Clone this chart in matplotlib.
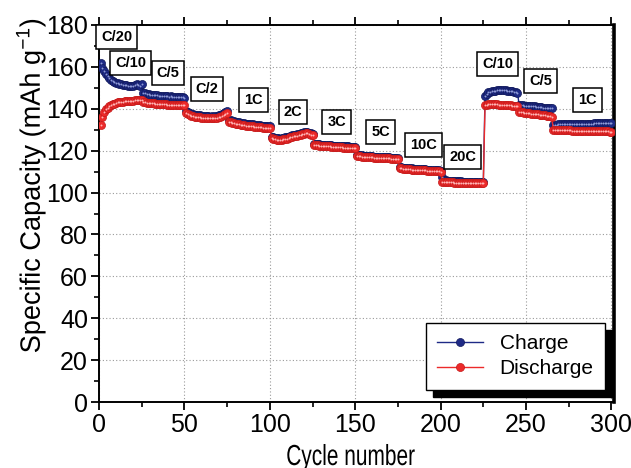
import matplotlib
matplotlib.use("Agg")
import matplotlib.pyplot as plt
from matplotlib import font_manager
from matplotlib.font_manager import FontProperties
from matplotlib.textpath import TextPath
from matplotlib.patches import PathPatch
from matplotlib.transforms import Affine2D, IdentityTransform

# ---------------- data ----------------
charge = [
    161.8, 159.5, 157.8, 156.5, 155.5, 154.6, 153.9, 153.3, 152.8, 152.4,
    152.1, 151.9, 151.7, 151.5, 151.4, 151.3, 151.1, 151.0, 150.9, 150.8,
    151.4, 151.9, 151.5, 150.8, 151.6,
    147.6, 147.3, 147.1, 146.9, 146.8, 146.6, 146.5, 146.4, 146.5, 146.3,
    146.2, 146.1, 146.2, 146.0, 145.9, 145.8, 145.9, 145.7, 145.6, 145.6,
    145.5, 145.5, 145.4, 145.5, 145.3,
    138.8, 138.3, 137.9, 137.6, 137.4, 137.2, 137.1, 136.9, 136.8, 136.7,
    136.6, 136.5, 136.4, 136.4, 136.3, 136.4, 136.3, 136.5, 136.7, 136.9,
    137.2, 137.6, 138.1, 138.6, 139.1,
    134.8, 134.5, 134.2, 134.0, 133.8, 133.6, 133.5, 133.3, 133.2, 133.0,
    132.9, 132.8, 132.7, 132.6, 132.5, 132.4, 132.3, 132.2, 132.1, 132.0,
    131.9, 131.8, 131.7, 131.7, 131.6,
    126.6, 126.3, 126.1, 126.0, 125.9, 125.8, 125.9, 126.1, 126.3, 126.5,
    126.7, 127.0, 127.3, 127.5, 127.7, 127.9, 128.1, 128.4, 128.6, 128.8,
    129.0, 128.9, 128.6, 128.3, 128.1,
    123.3, 123.2, 123.1, 123.0, 122.9, 122.9, 122.8, 122.7, 122.6, 122.6,
    122.5, 122.4, 122.4, 122.3, 122.3, 122.2, 122.2, 122.1, 122.1, 122.0,
    122.0, 121.9, 121.9, 121.8, 121.7,
    118.0, 117.9, 117.8, 117.7, 117.6, 117.5, 117.5, 117.4, 117.3, 117.3,
    117.2, 117.2, 117.1, 117.1, 117.0, 117.0, 116.9, 116.9, 116.8, 116.8,
    116.7, 116.7, 116.6, 116.5, 116.4,
    112.1, 112.0, 111.9, 111.8, 111.7, 111.6, 111.6, 111.5, 111.4, 111.4,
    111.3, 111.3, 111.2, 111.2, 111.1, 111.1, 111.0, 111.0, 110.9, 110.9,
    110.8, 110.8, 110.7, 110.6, 110.5,
    107.2, 106.2, 105.8, 105.6, 105.5, 105.4, 105.4, 105.3, 105.3, 105.3,
    105.3, 105.3, 105.2, 105.2, 105.2, 105.2, 105.2, 105.2, 105.2, 105.2,
    105.2, 105.2, 105.2, 105.2, 105.2,
    146.1, 147.2, 147.9, 148.2, 148.4, 148.6, 148.7, 148.8, 148.9, 149.0,
    149.0, 148.9, 148.8, 148.7, 148.6, 148.5, 148.3, 148.1, 147.8, 147.5,
    141.8, 141.7, 141.6, 141.5, 141.5, 141.4, 141.4, 141.3, 141.2, 141.1,
    141.0, 140.9, 140.8, 140.7, 140.6, 140.5, 140.4, 140.3, 140.2, 140.2,
    132.3, 132.4, 132.4, 132.5, 132.5, 132.5, 132.6, 132.6, 132.6, 132.6,
    132.7, 132.7, 132.7, 132.7, 132.8, 132.8, 132.8, 132.8, 132.8, 132.9,
    132.9, 132.9, 132.9, 132.9, 133.0, 133.0, 133.0, 133.0, 133.0, 133.0,
    133.1, 133.1, 133.1, 133.1, 133.1,
]

discharge = [
    132.3, 136.0, 138.6, 139.8, 140.6, 141.2, 141.7, 142.1, 142.5, 142.8,
    143.0, 143.2, 143.3, 143.4, 143.5, 143.6, 143.7, 143.8, 143.8, 143.9,
    144.0, 144.1, 144.0, 144.1, 144.0,
    143.2, 143.0, 142.9, 142.8, 142.7, 142.6, 142.6, 142.5, 142.4, 142.4,
    142.3, 142.2, 142.3, 142.1, 142.0, 142.0, 141.9, 141.9, 141.8, 141.8,
    141.7, 141.8, 141.7, 141.6, 141.6,
    137.9, 137.4, 137.0, 136.7, 136.5, 136.3, 136.2, 136.0, 135.9, 135.8,
    135.7, 135.6, 135.5, 135.5, 135.4, 135.5, 135.4, 135.6, 135.8, 136.0,
    136.3, 136.7, 137.2, 137.7, 138.2,
    133.9, 133.6, 133.3, 133.1, 132.9, 132.7, 132.6, 132.4, 132.3, 132.1,
    132.0, 131.9, 131.8, 131.7, 131.6, 131.5, 131.4, 131.3, 131.2, 131.1,
    131.0, 130.9, 130.8, 130.8, 130.7,
    125.9, 125.6, 125.4, 125.3, 125.2, 125.1, 125.2, 125.4, 125.6, 125.8,
    126.0, 126.3, 126.6, 126.8, 127.0, 127.2, 127.4, 127.7, 127.9, 128.1,
    128.3, 128.2, 127.9, 127.6, 127.4,
    122.7, 122.6, 122.5, 122.4, 122.3, 122.3, 122.2, 122.1, 122.0, 122.0,
    121.9, 121.8, 121.8, 121.7, 121.7, 121.6, 121.6, 121.5, 121.5, 121.4,
    121.4, 121.3, 121.3, 121.2, 121.1,
    117.5, 117.4, 117.3, 117.2, 117.1, 117.0, 117.0, 116.9, 116.8, 116.8,
    116.7, 116.7, 116.6, 116.6, 116.5, 116.5, 116.4, 116.4, 116.3, 116.3,
    116.2, 116.2, 116.1, 116.0, 115.9,
    111.6, 111.5, 111.4, 111.3, 111.2, 111.1, 111.1, 111.0, 110.9, 110.9,
    110.8, 110.8, 110.7, 110.7, 110.6, 110.6, 110.5, 110.5, 110.4, 110.4,
    110.3, 110.3, 110.2, 110.1, 110.0,
    105.2, 105.1, 105.0, 105.0, 104.9, 104.9, 104.9, 104.8, 104.8, 104.8,
    104.8, 104.8, 104.7, 104.7, 104.7, 104.7, 104.7, 104.7, 104.7, 104.7,
    104.7, 104.7, 104.7, 104.7, 104.7,
    141.8, 142.0, 142.1, 142.2, 142.3, 142.3, 142.3, 142.2, 142.0, 141.9,
    141.8, 141.9, 142.0, 141.9, 141.7, 141.6, 141.5, 141.4, 141.4, 141.3,
    138.6, 138.4, 138.3, 138.1, 138.0, 137.9, 137.8, 137.7, 137.6, 137.5,
    137.4, 137.3, 137.2, 137.1, 137.0, 136.8, 136.7, 136.5, 136.4, 136.2,
    129.9, 129.9, 129.9, 129.8, 129.8, 129.8, 129.8, 129.7, 129.7, 129.7,
    129.7, 129.6, 129.6, 129.6, 129.6, 129.5, 129.5, 129.5, 129.5, 129.4,
    129.4, 129.4, 129.4, 129.4, 129.3, 129.3, 129.3, 129.3, 129.3, 129.2,
    129.2, 129.2, 129.2, 129.1, 129.1,
]

cycles = list(range(1, len(charge) + 1))

rate_labels = ["C/20", "C/10", "C/5", "C/2", "1C", "2C", "3C", "5C",
               "10C", "20C", "C/10", "C/5", "1C"]
label_x = [10.5, 18.7, 40.4, 63.2, 90.6, 113.5, 139.2, 164.9, 190.1,
           212.9, 233.3, 258.5, 286.0]
label_y = [174.3, 161.9, 157.1, 149.5, 144.2, 138.5, 133.7, 128.9, 122.7,
           117.0, 161.4, 153.3, 144.2]

x_label = "Cycle number"
y_label = "Specific Capacity (mAh g$^{\\mathregular{-1}}$)"

# ---------------- fonts ----------------
available = {f.name for f in font_manager.fontManager.ttflist}
base = "Liberation Sans" if "Liberation Sans" in available else "DejaVu Sans"
plt.rcParams["font.family"] = [base, "DejaVu Sans"]
plt.rcParams["mathtext.fontset"] = "custom"
plt.rcParams["mathtext.rm"] = base
plt.rcParams["mathtext.it"] = base

W, H = 631, 468
fig = plt.figure(figsize=(W / 100, H / 100), dpi=100)
ax = fig.add_axes([99 / W, 1 - 402 / H, (614 - 99) / W, (402 - 25) / H])

navy = "#1e2a86"
red = "#ec2a2a"

ax.plot(cycles, charge, "-", color=navy, lw=1.0, marker="o", ms=5.8,
        mfc=navy, mec="#121a5c", mew=0.5, zorder=3, label="Charge")
ax.plot(cycles, charge, "o", ms=1.4, color="#8f9ad6", mew=0, zorder=3.1)
ax.plot(cycles, discharge, "-", color=red, lw=1.0, marker="o", ms=5.8,
        mfc=red, mec="#c41a1a", mew=0.5, zorder=4, label="Discharge")
ax.plot(cycles, discharge, "o", ms=1.4, color="#ffb4b4", mew=0, zorder=4.1)

for t, x, y in zip(rate_labels, label_x, label_y):
    ax.text(x, y, t, ha="center", va="center", fontsize=10.5,
            fontweight="bold", color="black", zorder=6,
            bbox=dict(boxstyle="square,pad=0.34", fc="white", ec="black", lw=1.1))

ax.set_xlim(0, 301.5)
ax.set_ylim(0, 180)
ax.set_xticks(range(0, 301, 50))
ax.set_xticks(range(25, 301, 50), minor=True)
ax.set_yticks(range(0, 181, 20))
ax.set_yticks(range(10, 181, 20), minor=True)

ax.grid(True, which="major", linestyle=(0, (1, 2)), color="#9a9a9a", lw=0.8)
ax.set_axisbelow(True)

ax.tick_params(axis="both", which="major", direction="out", length=6, width=1.3,
               labelsize=18, pad=2)
ax.tick_params(axis="both", which="minor", direction="out", length=3.5, width=1.2)
ax.tick_params(axis="x", which="both", top=True)
ax.tick_params(axis="y", which="both", right=False)

for s in ["left", "bottom", "top"]:
    ax.spines[s].set_linewidth(1.4)
ax.spines["right"].set_linewidth(2.6)


def condensed_text(s, cx, baseline_y, size_px, sx, rot=0.0):
    """Draw text as a path, horizontally condensed, in figure pixel coords
    (cx: centre, baseline_y: baseline measured from the top of the figure)."""
    tp = TextPath((0, 0), s, size=size_px, prop=FontProperties(family=base))
    bb = tp.get_extents()
    tr = (Affine2D().translate(-(bb.x0 + bb.x1) / 2, 0).scale(sx, 1)
          .rotate_deg(rot).translate(cx, H - baseline_y))
    fig.add_artist(PathPatch(tr.transform_path(tp), fc="black", ec="none",
                             lw=0, transform=IdentityTransform()))


# x label: strongly condensed
condensed_text(x_label, 351, 465, 29, 0.72)
# y label: rotated, baseline at x~40, centred at y~186
condensed_text(y_label, 40, 186, 28, 0.97, rot=90)

leg = ax.legend(loc="lower right", bbox_to_anchor=(0.9825, 0.032), fontsize=15,
                frameon=True, fancybox=False, edgecolor="black", framealpha=1,
                handlelength=2.2, handletextpad=0.8, borderpad=0.55,
                labelspacing=0.3, borderaxespad=0,
                shadow={"ox": 5, "oy": -5, "color": "black", "alpha": 1})
leg.get_frame().set_linewidth(1.0)
leg.set_zorder(7)

fig.savefig("out.png", dpi=100)
